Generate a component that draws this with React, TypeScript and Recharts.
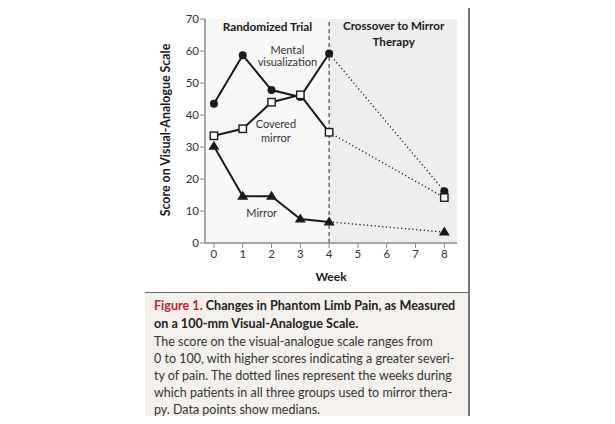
import React from "react";
import {
  ComposedChart,
  Line,
  XAxis,
  YAxis,
  ReferenceArea,
  ReferenceLine,
  ReferenceDot,
} from "recharts";

const weeks = [0, 1, 2, 3, 4, 8];
const mentalVisualization = [43.5, 58.7, 47.8, 45.6, 59.2, 16.2];
const coveredMirror = [33.5, 35.7, 44.0, 46.3, 34.6, 14.2];
const mirror = [30.2, 14.6, 14.6, 7.5, 6.6, 3.4];
const xTicks = [0, 1, 2, 3, 4, 5, 6, 7, 8];
const yTicks = [0, 10, 20, 30, 40, 50, 60, 70];
const crossoverWeek = 4;
const lastWeek = 8;

const data = weeks.map((week, i) => ({
  week,
  mental: week <= crossoverWeek ? mentalVisualization[i] : null,
  mentalX: week >= crossoverWeek ? mentalVisualization[i] : null,
  covered: week <= crossoverWeek ? coveredMirror[i] : null,
  coveredX: week >= crossoverWeek ? coveredMirror[i] : null,
  mirror: week <= crossoverWeek ? mirror[i] : null,
  mirrorX: week >= crossoverWeek ? mirror[i] : null,
}));

const FONT = "Lato, 'Noto Sans', sans-serif";
const INK = "#1a1a1a";

type DotProps = { cx?: number; cy?: number; payload?: { week: number }; index?: number };

const circle = (onlyLast: boolean) => (p: DotProps) => {
  if (p.cx == null || p.cy == null || (onlyLast && p.payload?.week !== lastWeek))
    return <g key={`c${p.index}`} />;
  return <circle key={`c${p.index}`} cx={p.cx} cy={p.cy} r={4} fill={INK} />;
};

const square = (onlyLast: boolean) => (p: DotProps) => {
  if (p.cx == null || p.cy == null || (onlyLast && p.payload?.week !== lastWeek))
    return <g key={`s${p.index}`} />;
  return (
    <rect
      key={`s${p.index}`}
      x={p.cx - 3.7}
      y={p.cy - 3.7}
      width={7.4}
      height={7.4}
      fill="#fff"
      stroke={INK}
      strokeWidth={1.4}
    />
  );
};

const triangle = (onlyLast: boolean) => (p: DotProps) => {
  if (p.cx == null || p.cy == null || (onlyLast && p.payload?.week !== lastWeek))
    return <g key={`t${p.index}`} />;
  const { cx, cy } = p;
  return (
    <polygon
      key={`t${p.index}`}
      points={`${cx},${cy - 5.5} ${cx - 5.5},${cy + 3.5} ${cx + 5.5},${cy + 3.5}`}
      fill={INK}
    />
  );
};

const note = (x: number, y: number, text: string, bold = false, size = 11) => (
  <ReferenceDot
    x={x}
    y={y}
    r={0}
    fill="none"
    stroke="none"
    ifOverflow="visible"
    label={{
      value: text,
      position: "center",
      fill: bold ? "#1a1a1a" : "#333",
      fontSize: size,
      fontWeight: bold ? 700 : 400,
      fontFamily: FONT,
    }}
  />
);

const YTitle = () => (
  <text
    x={20}
    y={130}
    transform="rotate(-90, 20, 130)"
    textAnchor="middle"
    dominantBaseline="central"
    fontFamily={FONT}
    fontWeight={700}
    fontSize={12.4}
    fill="#1a1a1a"
  >
    Score on Visual-Analogue Scale
  </text>
);

const captionLines = [
  "The score on the visual-analogue scale ranges from",
  "0 to 100, with higher scores indicating a greater severi-",
  "ty of pain. The dotted lines represent the weeks during",
  "which patients in all three groups used to mirror thera-",
  "py. Data points show medians.",
];

export default function App() {
  return (
    <div style={{ position: "relative", width: 615, height: 424, margin: -8, background: "#fff", fontFamily: FONT }}>
      <div style={{ position: "absolute", left: 145, top: 3, width: 323, height: 1, background: "#ddd" }} />
      <div style={{ position: "absolute", left: 468, top: 0, width: 1.5, height: 422, background: "#777" }} />
      <div style={{ position: "absolute", left: 145, top: 0 }}>
        <ComposedChart
          width={323}
          height={292}
          data={data}
          margin={{ top: 19, right: 11, bottom: 9, left: 0 }}
        >
          <ReferenceArea x1={-0.31} x2={crossoverWeek} y1={0} y2={70} fill="#f7f7f7" fillOpacity={1} stroke="none" />
          <ReferenceArea x1={crossoverWeek} x2={8.44} y1={0} y2={70} fill="#eeeeee" fillOpacity={1} stroke="none" />
          <ReferenceLine x={crossoverWeek} stroke="#222" strokeDasharray="4 3" strokeWidth={1} />
          <XAxis
            dataKey="week"
            type="number"
            domain={[-0.31, 8.44]}
            ticks={xTicks}
            allowDataOverflow
            height={40}
            tickSize={5}
            tickMargin={2}
            axisLine={{ stroke: "#888", strokeWidth: 1.5 }}
            tickLine={{ stroke: "#888" }}
            tick={{ fill: "#333", fontSize: 11.5, fontFamily: FONT }}
            label={{ value: "Week", position: "insideBottom", offset: 2, fill: "#1a1a1a", fontSize: 12, fontWeight: 700, fontFamily: FONT }}
          />
          <YAxis
            type="number"
            domain={[0, 70]}
            ticks={yTicks}
            width={60}
            tickSize={5}
            tickMargin={1}
            axisLine={{ stroke: "#888", strokeWidth: 1.5 }}
            tickLine={{ stroke: "#888" }}
            tick={{ fill: "#333", fontSize: 11.5, fontFamily: FONT }}
          />
          <Line dataKey="mentalX" connectNulls stroke="#222" strokeWidth={1.4} strokeDasharray="1.2 2.6" dot={circle(true)} isAnimationActive={false} />
          <Line dataKey="coveredX" connectNulls stroke="#222" strokeWidth={1.4} strokeDasharray="1.2 2.6" dot={square(true)} isAnimationActive={false} />
          <Line dataKey="mirrorX" connectNulls stroke="#222" strokeWidth={1.4} strokeDasharray="1.2 2.6" dot={triangle(true)} isAnimationActive={false} />
          <Line dataKey="mental" stroke={INK} strokeWidth={2} dot={circle(false)} isAnimationActive={false} />
          <Line dataKey="mirror" stroke={INK} strokeWidth={2} dot={triangle(false)} isAnimationActive={false} />
          <Line dataKey="covered" stroke={INK} strokeWidth={2} dot={square(false)} isAnimationActive={false} />
          {note(1.86, 67.7, "Randomized Trial", true, 11.8)}
          {note(6.24, 67.7, "Crossover to Mirror", true, 11.6)}
          {note(6.24, 62.9, "Therapy", true, 11.6)}
          {note(2.55, 60.4, "Mental")}
          {note(2.55, 56.6, "visualization")}
          {note(2.15, 37.1, "Covered")}
          {note(2.15, 32.9, "mirror")}
          {note(1.66, 9.2, "Mirror")}
          <YTitle />
        </ComposedChart>
      </div>
      <div
        style={{
          position: "absolute",
          left: 145,
          top: 292,
          width: 323,
          height: 130,
          background: "#f4f1ec",
          borderTop: "1.5px solid #666",
          borderBottom: "1px solid #ccc",
          boxSizing: "border-box",
          padding: "4px 0 0 9px",
          color: "#333",
          whiteSpace: "nowrap",
          overflow: "hidden",
        }}
      >
        <div style={{ fontSize: 12.6, fontWeight: 700, lineHeight: "18px", color: "#222" }}>
          <span style={{ color: "#c8202f" }}>Figure 1.</span> Changes in Phantom Limb Pain, as Measured
        </div>
        <div style={{ fontSize: 12.6, fontWeight: 700, lineHeight: "18px", color: "#222" }}>
          on a 100-mm Visual-Analogue Scale.
        </div>
        <div>
          {captionLines.map((l) => (
            <div key={l} style={{ fontSize: 12.5, lineHeight: "17px" }}>
              {l}
            </div>
          ))}
        </div>
      </div>
    </div>
  );
}
